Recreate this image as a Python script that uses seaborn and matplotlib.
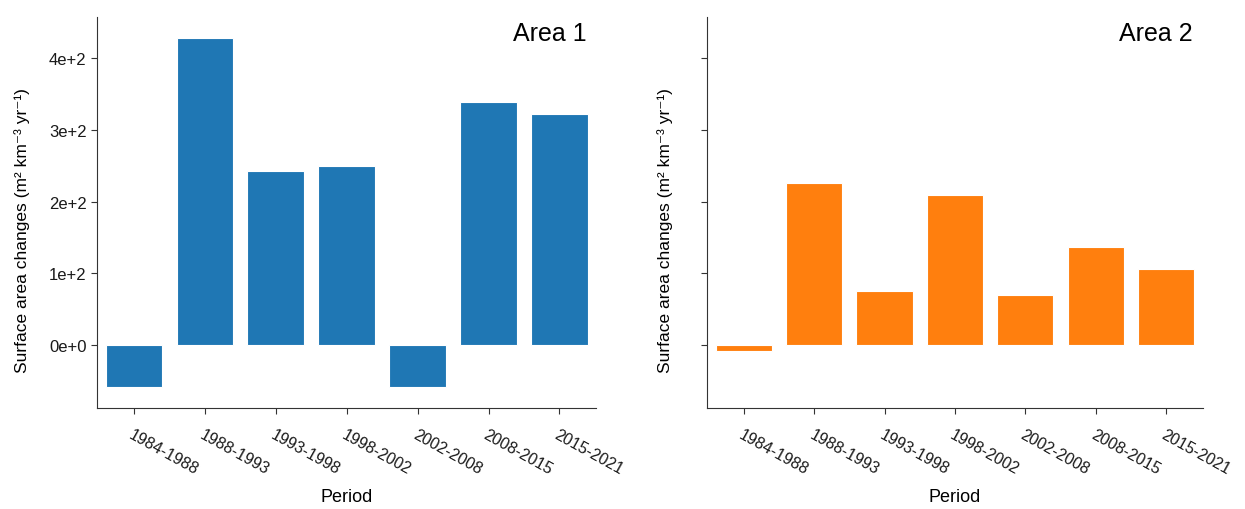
import numpy as np
import pandas as pd
import matplotlib
matplotlib.use("Agg")
import matplotlib.pyplot as plt
import seaborn as sns
from matplotlib.ticker import FuncFormatter

# Dados
periods = ["1984-1988", "1988-1993", "1993-1998", "1998-2002",
           "2002-2008", "2008-2015", "2015-2021"]
area1 = [-58, 429, 243, 250, -58, 339, 323]
area2 = [-9, 226, 75, 210, 70, 137, 106]
y_ticks = [0, 100, 200, 300, 400]

df = pd.DataFrame({
    "Period": periods * 2,
    "value": area1 + area2,
    "area": ["Area 1"] * 7 + ["Area 2"] * 7,
})

sns.set_style("ticks")
plt.rcParams['font.family'] = ['Liberation Sans', 'DejaVu Sans']
plt.rcParams['text.color'] = "black"
plt.rcParams['axes.labelcolor'] = "black"
plt.rcParams['xtick.color'] = "#333333"
plt.rcParams['ytick.color'] = "#333333"
plt.rcParams['xtick.labelcolor'] = "#1a1a1a"
plt.rcParams['ytick.labelcolor'] = "#1a1a1a"


def sci_fmt(v, pos):
    if v == 0:
        return "0e+0"
    exp = int(np.floor(np.log10(abs(v))))
    return f"{v / 10 ** exp:.0f}e+{exp}"


fig = plt.figure(figsize=(12.45, 5.10), dpi=100)
ax1 = fig.add_axes([0.078, 0.198, 0.401, 0.767])
ax2 = fig.add_axes([0.568, 0.198, 0.398, 0.767], sharey=ax1)

cores = {"Area 1": "#1f77b4", "Area 2": "#ff7f0e"}
ylabel_x = {"Area 1": -0.134, "Area 2": -0.069}

for ax, nome in [(ax1, "Area 1"), (ax2, "Area 2")]:
    sub = df[df["area"] == nome]
    sns.barplot(data=sub, x="Period", y="value", color=cores[nome],
                saturation=1, width=0.8, edgecolor="white", linewidth=0.8, ax=ax)
    ax.set_xlim(-0.52, 6.52)
    ax.set_ylim(-88, 458)
    ax.set_yticks(y_ticks)
    ax.yaxis.set_major_formatter(FuncFormatter(sci_fmt))
    ax.set_xlabel("Period", fontsize=13)
    ax.set_ylabel("Surface area changes (m\u00b2 km\u207b\u00b3 yr\u207b\u00b9)", fontsize=12.5)
    ax.xaxis.set_label_coords(0.5, -0.205)
    ax.yaxis.set_label_coords(ylabel_x[nome], 0.457)
    ax.tick_params(axis="y", labelsize=12, length=4)
    ax.tick_params(axis="x", labelsize=11.5, length=4, pad=9)
    for lab in ax.get_xticklabels():
        lab.set_rotation(-29)
        lab.set_ha("left")
        lab.set_rotation_mode("anchor")
    for s in ["left", "bottom"]:
        ax.spines[s].set_color("#333333")
    sns.despine(ax=ax)
    ax.text(0.98, 0.99, nome, transform=ax.transAxes, ha="right", va="top", fontsize=18)

ax2.tick_params(axis="y", labelleft=False)

fig.savefig("out.png", dpi=100)
